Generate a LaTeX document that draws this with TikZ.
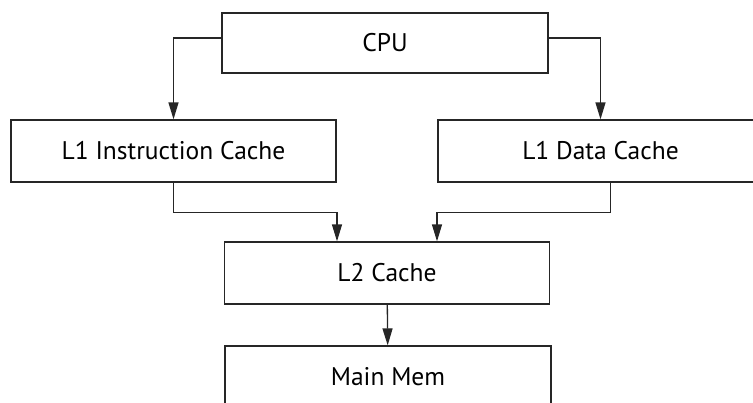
\documentclass[tikz,border=0pt]{standalone}
\usepackage{fontspec}
\setmainfont{PT Sans}
\usetikzlibrary{arrows.meta}
\tikzset{cache box/.style={rectangle,draw=black!85,line width=1.3pt,minimum height=62pt,inner sep=0pt,font=\fontsize{25.5}{30}\selectfont}}
\tikzset{bus edge/.style={draw=black!85,line width=1.3pt,-{Triangle[length=17pt,width=10pt]}}}

\begin{document}
\begin{tikzpicture}[x=1pt,y=-1pt]
\useasboundingbox (0,0) rectangle (753,402);
\clip (0,0) rectangle (753,402);

\node[cache box,minimum width=326pt,minimum height=60pt] (CPU) at (385,43) {CPU};
\node[cache box,minimum width=325pt] (L1I) at (173.5,151) {L1 Instruction Cache};
\node[cache box,minimum width=325pt] (L1D) at (600.5,151) {L1 Data Cache};
\node[cache box,minimum width=325pt] (L2) at (387,273) {L2 Cache};
\node[cache box,minimum width=326pt] (Mem) at (388,377) {Main Mem};

\draw[bus edge] ([yshift=5pt]CPU.west) -| (L1I.north);
\draw[bus edge] ([yshift=5pt]CPU.east) -| (L1D.north);
\draw[bus edge] (L1I.south) -- ++(0,30) -| ([xshift=-50pt]L2.north);
\draw[bus edge] ([xshift=10pt]L1D.south) -- ++(0,30) -| ([xshift=50pt]L2.north);
\draw[bus edge] (L2) -- (Mem);

\end{tikzpicture}
\end{document}
